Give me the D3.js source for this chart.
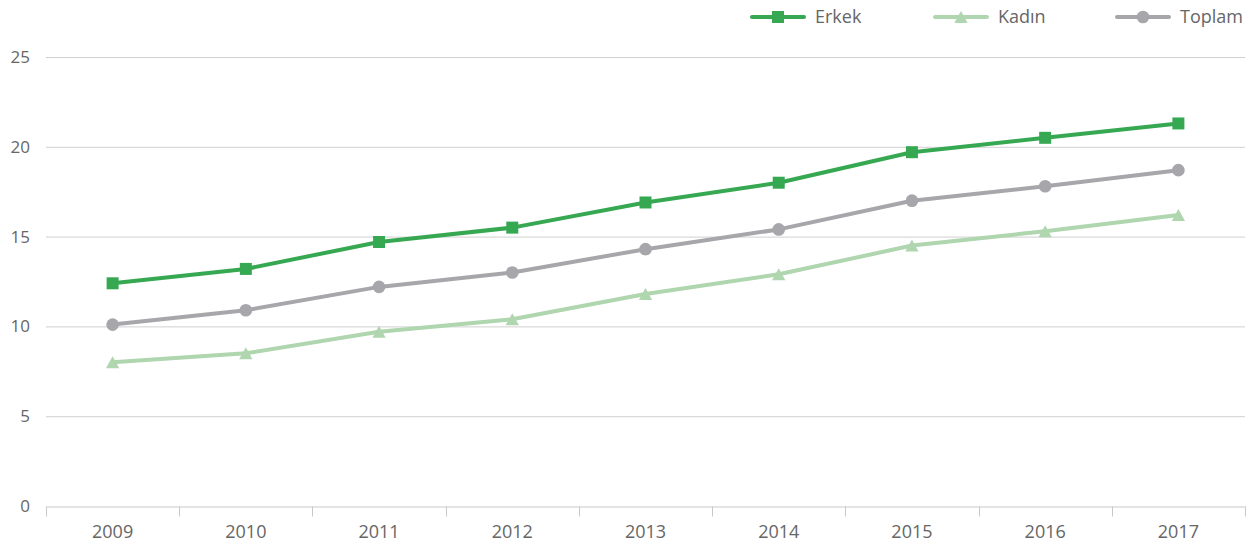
<!DOCTYPE html>
<html>
<head>
<meta charset="utf-8">
<script src="https://cdn.jsdelivr.net/npm/d3@7"></script>
<style>
  body { margin: 0; background: #fff; }
  text { font-family: "Open Sans", sans-serif; }
</style>
</head>
<body>
<script>
// Chart data
const years = ['2009', '2010', '2011', '2012', '2013', '2014', '2015', '2016', '2017'];
const erkek = [12.4, 13.2, 14.7, 15.5, 16.9, 18.0, 19.7, 20.5, 21.3];
const kadin = [8.0, 8.5, 9.7, 10.4, 11.8, 12.9, 14.5, 15.3, 16.2];
const toplam = [10.1, 10.9, 12.2, 13.0, 14.3, 15.4, 17.0, 17.8, 18.7];
const yTicks = [0, 5, 10, 15, 20, 25];

// Triangle centred on its bounding box (like the original chart)
const boxTriangle = {
  draw(context, size) {
    const w = Math.sqrt(size * 1.6);
    const h = w * 0.9;
    context.moveTo(0, -h / 2);
    context.lineTo(w / 2, h / 2);
    context.lineTo(-w / 2, h / 2);
    context.closePath();
  }
};

const series = [
  { name: 'Erkek', values: erkek, color: '#37a852', symbol: d3.symbolSquare, size: 144 },
  { name: 'Kadın', values: kadin, color: '#afd6ae', symbol: boxTriangle, size: 110 },
  { name: 'Toplam', values: toplam, color: '#a6a6ab', symbol: d3.symbolCircle, size: 125 }
];

const width = 1250;
const height = 547;
const margin = { top: 57, right: 5, bottom: 41, left: 46 };

const svg = d3.select('body').append('svg').attr('width', width).attr('height', height);

const x = d3.scaleBand().domain(years).range([margin.left, width - margin.right]);
const y = d3.scaleLinear().domain([0, 25]).range([height - margin.bottom, margin.top]);

// Grid lines
svg.append('g')
  .selectAll('line')
  .data(yTicks.filter((t) => t > 0))
  .enter()
  .append('line')
  .attr('x1', margin.left)
  .attr('x2', width - margin.right)
  .attr('y1', (d) => y(d) + 0.5)
  .attr('y2', (d) => y(d) + 0.5)
  .attr('stroke', '#d0d0d0')
  .attr('stroke-width', 1);

// Y labels
svg.append('g')
  .selectAll('text')
  .data(yTicks)
  .enter()
  .append('text')
  .attr('x', 30)
  .attr('y', (d) => y(d))
  .attr('dy', '0.35em')
  .attr('text-anchor', 'end')
  .attr('font-size', 17)
  .attr('fill', '#666')
  .text((d) => d);

// X axis
const xAxis = svg.append('g')
  .attr('transform', `translate(0,${y(0) + 0.5})`)
  .call(d3.axisBottom(x).tickSize(0).tickPadding(19));
xAxis.select('.domain').attr('stroke', '#c8c8c8');
xAxis.selectAll('text').attr('font-size', 18).attr('fill', '#666').attr('font-family', '"Open Sans", sans-serif');

// Band boundary ticks
const bounds = years.map((d) => x(d)).concat([x(years[years.length - 1]) + x.bandwidth()]);
xAxis.selectAll('.bound')
  .data(bounds)
  .enter()
  .append('line')
  .attr('class', 'bound')
  .attr('x1', (d) => Math.round(d) + 0.5)
  .attr('x2', (d) => Math.round(d) + 0.5)
  .attr('y1', 0)
  .attr('y2', 10)
  .attr('stroke', '#c8c8c8');

// Lines and markers
const line = d3.line()
  .x((d, i) => x(years[i]) + x.bandwidth() / 2)
  .y((d) => y(d));

const drawOrder = [series[1], series[2], series[0]];
drawOrder.forEach((s) => {
  const g = svg.append('g');
  g.append('path')
    .attr('d', line(s.values))
    .attr('fill', 'none')
    .attr('stroke', s.color)
    .attr('stroke-width', 4)
    .attr('stroke-linejoin', 'round');
  g.selectAll('path.marker')
    .data(s.values)
    .enter()
    .append('path')
    .attr('class', 'marker')
    .attr('d', d3.symbol().type(s.symbol).size(s.size))
    .attr('transform', (d, i) => `translate(${x(years[i]) + x.bandwidth() / 2},${y(d)})`)
    .attr('fill', s.color);
});

// Legend
const legendX = [752, 935, 1117];
const legend = svg.append('g');
series.forEach((s, i) => {
  const lg = legend.append('g').attr('transform', `translate(${legendX[i]},17)`);
  lg.append('line')
    .attr('x1', 0).attr('x2', 52)
    .attr('stroke', s.color)
    .attr('stroke-width', 4)
    .attr('stroke-linecap', 'round');
  lg.append('path')
    .attr('d', d3.symbol().type(s.symbol).size(s.size))
    .attr('transform', 'translate(26,0)')
    .attr('fill', s.color);
  lg.append('text')
    .attr('x', 63)
    .attr('dy', '0.35em')
    .attr('font-size', 18)
    .attr('fill', '#666')
    .text(s.name);
});
</script>
</body>
</html>
